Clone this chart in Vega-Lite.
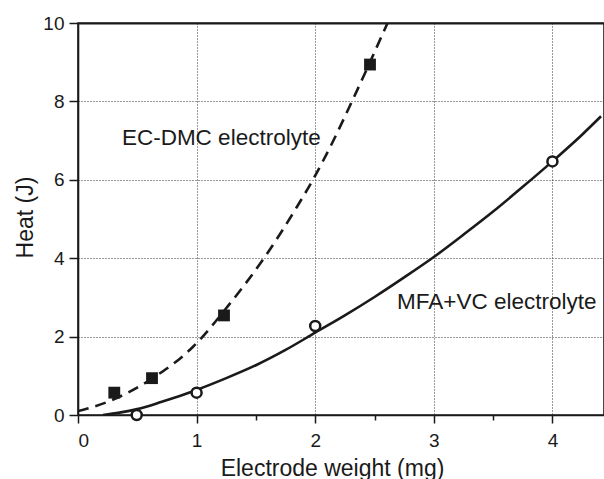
{
  "$schema": "https://vega.github.io/schema/vega-lite/v6.json",
  "width": 526,
  "height": 392,
  "autosize": {"type": "none"},
  "padding": {"left": 78, "top": 23, "right": 0, "bottom": 64},
  "background": "white",
  "config": {
    "view": {"stroke": "#1a1a1a", "strokeWidth": 1.6},
    "font": "Liberation Sans",
    "axis": {
      "domainColor": "#1a1a1a",
      "domainWidth": 1.6,
      "tickColor": "#1a1a1a",
      "tickWidth": 1.5,
      "labelColor": "#1a1a1a",
      "titleColor": "#1a1a1a",
      "labelFont": "Liberation Sans",
      "titleFont": "Liberation Sans",
      "labelFontSize": 19,
      "titleFontSize": 23,
      "titleFontWeight": "normal"
    }
  },
  "datasets": {
    "curves": [
      {"series": "EC-DMC", "x": 0.0, "y": 0.1},
      {"series": "EC-DMC", "x": 0.27, "y": 0.36},
      {"series": "EC-DMC", "x": 0.635, "y": 0.95},
      {"series": "EC-DMC", "x": 0.97, "y": 1.74},
      {"series": "EC-DMC", "x": 1.267, "y": 2.79},
      {"series": "EC-DMC", "x": 1.577, "y": 4.04},
      {"series": "EC-DMC", "x": 1.844, "y": 5.3},
      {"series": "EC-DMC", "x": 1.984, "y": 6.02},
      {"series": "EC-DMC", "x": 2.14, "y": 6.92},
      {"series": "EC-DMC", "x": 2.31, "y": 8.0},
      {"series": "EC-DMC", "x": 2.61, "y": 10.0},
      {"series": "MFA+VC", "x": 0.21, "y": 0.0},
      {"series": "MFA+VC", "x": 0.35, "y": 0.06},
      {"series": "MFA+VC", "x": 0.5, "y": 0.15},
      {"series": "MFA+VC", "x": 0.7, "y": 0.33},
      {"series": "MFA+VC", "x": 1.0, "y": 0.64},
      {"series": "MFA+VC", "x": 1.25, "y": 0.94},
      {"series": "MFA+VC", "x": 1.5, "y": 1.27},
      {"series": "MFA+VC", "x": 1.75, "y": 1.66},
      {"series": "MFA+VC", "x": 2.0, "y": 2.1},
      {"series": "MFA+VC", "x": 2.25, "y": 2.54},
      {"series": "MFA+VC", "x": 2.5, "y": 3.01},
      {"series": "MFA+VC", "x": 2.75, "y": 3.51},
      {"series": "MFA+VC", "x": 3.0, "y": 4.03},
      {"series": "MFA+VC", "x": 3.25, "y": 4.6},
      {"series": "MFA+VC", "x": 3.5, "y": 5.19},
      {"series": "MFA+VC", "x": 3.75, "y": 5.82},
      {"series": "MFA+VC", "x": 4.0, "y": 6.47},
      {"series": "MFA+VC", "x": 4.25, "y": 7.15},
      {"series": "MFA+VC", "x": 4.41, "y": 7.62}
    ],
    "squares": [
      {"x": 0.306, "y": 0.57},
      {"x": 0.624, "y": 0.94},
      {"x": 1.231, "y": 2.54},
      {"x": 2.462, "y": 8.94}
    ],
    "circles": [
      {"x": 0.495, "y": 0.0},
      {"x": 1.0, "y": 0.57},
      {"x": 2.0, "y": 2.27},
      {"x": 4.0, "y": 6.47}
    ],
    "labels": [
      {"x": 0.37, "y": 6.89, "text": "EC-DMC electrolyte"},
      {"x": 2.69, "y": 2.7, "text": "MFA+VC electrolyte"}
    ],
    "frame": [
      {"y": 9.985}
    ]
  },
  "layer": [
    {
      "data": {"name": "curves"},
      "transform": [{"filter": "datum.series === 'EC-DMC'"}],
      "mark": {"type": "line", "color": "#1a1a1a", "strokeWidth": 2.6, "strokeDash": [11, 7], "interpolate": "monotone", "clip": true},
      "encoding": {
        "x": {
          "field": "x", "type": "quantitative",
          "scale": {"domain": [0, 4.435], "nice": false, "zero": false},
          "axis": {
            "orient": "bottom", "title": "Electrode weight (mg)",
            "values": [0, 0.5, 1, 1.5, 2, 2.5, 3, 3.5, 4],
            "labelExpr": "datum.value % 1 === 0 ? format(datum.value, 'd') : ''",
            "grid": true,
            "gridColor": "#333333",
            "gridDash": [1, 2],
            "gridWidth": 1,
            "gridOpacity": {"condition": {"test": "datum.value % 1 === 0 && datum.value > 0", "value": 1}, "value": 0},
            "tickSize": {"condition": {"test": "datum.value % 1 === 0", "value": 8}, "value": 5},
            "labelPadding": 8,
            "titleX": 254, "titleY": 60, "titleBaseline": "alphabetic", "titleAlign": "center", "titleAnchor": null
          }
        },
        "y": {
          "field": "y", "type": "quantitative",
          "scale": {"domain": [0, 10], "nice": false, "zero": false},
          "axis": {
            "orient": "left", "title": "Heat (J)",
            "values": [0, 1, 2, 3, 4, 5, 6, 7, 8, 9, 10],
            "labelExpr": "datum.value % 2 === 0 ? format(datum.value, 'd') : ''",
            "grid": true,
            "gridColor": "#333333",
            "gridDash": [1, 2],
            "gridWidth": 1,
            "gridOpacity": {"condition": {"test": "datum.value % 2 === 0 && datum.value > 0 && datum.value < 10", "value": 1}, "value": 0},
            "tickSize": {"condition": {"test": "datum.value % 2 === 0", "value": 9}, "value": 5},
            "labelPadding": 5,
            "titleX": -46, "titleY": 194, "titleBaseline": "alphabetic", "titleAlign": "center", "titleAngle": -90, "titleAnchor": null
          }
        }
      }
    },
    {
      "data": {"name": "frame"},
      "mark": {"type": "rule", "color": "#1a1a1a", "strokeWidth": 1.8},
      "encoding": {
        "y": {"field": "y", "type": "quantitative"}
      }
    },
    {
      "data": {"name": "curves"},
      "transform": [{"filter": "datum.series === 'MFA+VC'"}],
      "mark": {"type": "line", "color": "#1a1a1a", "strokeWidth": 2.6, "interpolate": "monotone", "clip": true},
      "encoding": {
        "x": {"field": "x", "type": "quantitative"},
        "y": {"field": "y", "type": "quantitative"}
      }
    },
    {
      "data": {"name": "squares"},
      "mark": {"type": "point", "shape": "square", "filled": true, "color": "#1a1a1a", "size": 140, "opacity": 1},
      "encoding": {
        "x": {"field": "x", "type": "quantitative"},
        "y": {"field": "y", "type": "quantitative"}
      }
    },
    {
      "data": {"name": "circles"},
      "mark": {"type": "point", "shape": "circle", "filled": false, "fill": "white", "fillOpacity": 1, "stroke": "#1a1a1a", "strokeWidth": 2.5, "size": 100, "opacity": 1},
      "encoding": {
        "x": {"field": "x", "type": "quantitative"},
        "y": {"field": "y", "type": "quantitative"}
      }
    },
    {
      "data": {"name": "labels"},
      "mark": {"type": "text", "align": "left", "baseline": "alphabetic", "fontSize": 22.5, "font": "Liberation Sans", "color": "#1a1a1a"},
      "encoding": {
        "x": {"field": "x", "type": "quantitative"},
        "y": {"field": "y", "type": "quantitative"},
        "text": {"field": "text"}
      }
    }
  ]
}
